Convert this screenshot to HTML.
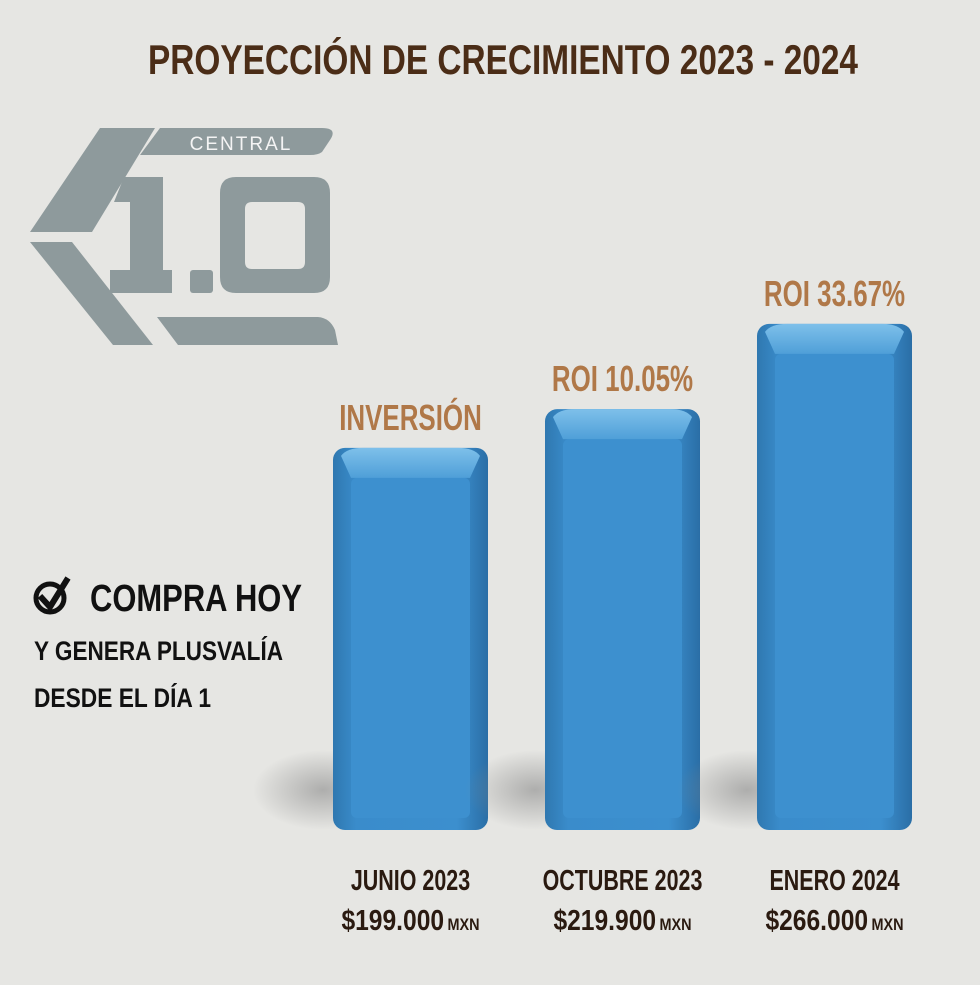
<!DOCTYPE html>
<html><head><meta charset="utf-8"><style>
html,body{margin:0;padding:0;}
body{width:980px;height:980px;background:#e6e6e3;overflow:hidden;font-family:"Liberation Sans",sans-serif;}
svg text{font-family:"Liberation Sans",sans-serif;font-weight:bold;}
</style></head><body>
<svg width="980" height="980" viewBox="0 0 980 980">
<defs>
<linearGradient id="front" x1="0" x2="1" y1="0" y2="0">
<stop offset="0" stop-color="#2f78b0"/><stop offset="0.15" stop-color="#3a8ccb"/><stop offset="0.8" stop-color="#3c8fce"/><stop offset="1" stop-color="#2a6ea6"/></linearGradient>
<linearGradient id="topg" x1="0" x2="0" y1="0" y2="1"><stop offset="0" stop-color="#7ec0ea"/><stop offset="1" stop-color="#4f9fd8"/></linearGradient>
<radialGradient id="shadow" cx="0.5" cy="0.5" r="0.5"><stop offset="0" stop-color="#888" stop-opacity="0.6"/><stop offset="1" stop-color="#888" stop-opacity="0"/></radialGradient>
</defs>
<rect width="980" height="980" fill="#e6e6e3"/>
<text x="148" y="74" font-size="42" fill="#4b2d17" textLength="710" lengthAdjust="spacingAndGlyphs">PROYECCIÓN DE CRECIMIENTO 2023 - 2024</text>
<g fill="#8e9a9c">
<polygon points="100,128 155,128 92,232 30,232"/>
<polygon points="30,242 72,242 153,345 113,345"/>
<path d="M160,128 L322,128 Q338,128 330,140 L322,152 Q318,155 310,155 L140,155 Z"/>
<path d="M157,317 L318,317 Q330,318 335,330 L338,345 L178,345 Z"/>
<polygon points="124,177 163,177 163,270 172,270 172,293 110,293 110,270 130,270 130,202 114,202"/>
<rect x="190" y="270" width="23" height="23" rx="3"/>
<path fill-rule="evenodd" d="M236,177 H314 Q330,177 330,193 V277 Q330,293 314,293 H236 Q220,293 220,277 V193 Q220,177 236,177 Z M252,202 Q245,202 245,209 V262 Q245,269 252,269 H298 Q305,269 305,262 V209 Q305,202 298,202 Z"/>
<text x="241" y="150" text-anchor="middle" font-size="19" fill="#f4f4f4" letter-spacing="2" style="font-weight:normal">CENTRAL</text>
</g>
<g>
<circle cx="50" cy="598" r="14" fill="none" stroke="#111" stroke-width="5"/>
<path d="M40,596 L50,607 L68,578" fill="none" stroke="#111" stroke-width="6"/>
<text x="90" y="611" font-size="38" fill="#111" textLength="212" lengthAdjust="spacingAndGlyphs">COMPRA HOY</text>
<text x="34" y="660" font-size="27" fill="#111" textLength="249" lengthAdjust="spacingAndGlyphs">Y GENERA PLUSVALÍA</text>
<text x="34" y="707" font-size="27" fill="#111" textLength="177" lengthAdjust="spacingAndGlyphs">DESDE EL DÍA 1</text>
</g>
<g id="bars"></g>
</svg>
<script>
const categories=["JUNIO 2023","OCTUBRE 2023","ENERO 2024"];
const values=[199000,219900,266000];
const topLabels=["INVERSIÓN","ROI 10.05%","ROI 33.67%"];
const priceLabels=["$199.000","$219.900","$266.000"];
const NS="http://www.w3.org/2000/svg";
const g=document.getElementById('bars');
const base=830, k=0.00185, off=14, x0=333, step=212, w=155;
function yScale(v){return base-(off+v*k);}
function mk(tag,attrs){const e=document.createElementNS(NS,tag);for(const a in attrs)e.setAttribute(a,attrs[a]);return e;}
function squeeze(t,f){const L=t.getComputedTextLength();t.setAttribute('textLength',(L*f).toFixed(1));t.setAttribute('lengthAdjust','spacingAndGlyphs');}
values.forEach((v,i)=>{
 const x=x0+i*step, y=yScale(v);
 const sh=mk('ellipse',{cx:x-10,cy:base-40,rx:70,ry:40,fill:'url(#shadow)'});
 
 
 g.appendChild(sh);
 const body=mk('rect',{x:x,y:y,width:w,height:base-y,rx:12,fill:'url(#front)'});
 
 
 g.appendChild(body);
 const side=mk('rect',{x:x+18,y:y+30,width:w-36,height:base-y-42,rx:6,fill:'#3d90cf'});
 
 
 g.appendChild(side);
 const top=mk('path',{d:`M${x+8},${y+8} Q${x+14},${y} ${x+30},${y} L${x+w-30},${y} Q${x+w-14},${y} ${x+w-8},${y+8} L${x+w-18},${y+30} L${x+18},${y+30} Z`,fill:'url(#topg)'});
 
 
 g.appendChild(top);
 const t=mk('text',{x:x+w/2,y:y-18,'text-anchor':'middle','font-size':36,fill:'#b07848'});
 t.textContent=topLabels[i];
 
 
 g.appendChild(t);squeeze(t,0.72);
 const c=mk('text',{x:x+w/2,y:890,'text-anchor':'middle','font-size':29,fill:'#2a1a10'});
 c.textContent=categories[i];
 
 
 g.appendChild(c);squeeze(c,0.74);
 const p=mk('text',{x:x+w/2,y:930,'text-anchor':'middle','font-size':29,fill:'#2a1a10'});
 p.textContent=priceLabels[i];
 const s=mk('tspan',{'font-size':17,dx:4});s.textContent='MXN';p.appendChild(s);
 
 
 g.appendChild(p);squeeze(p,0.87);
});
</script>
</body></html>
